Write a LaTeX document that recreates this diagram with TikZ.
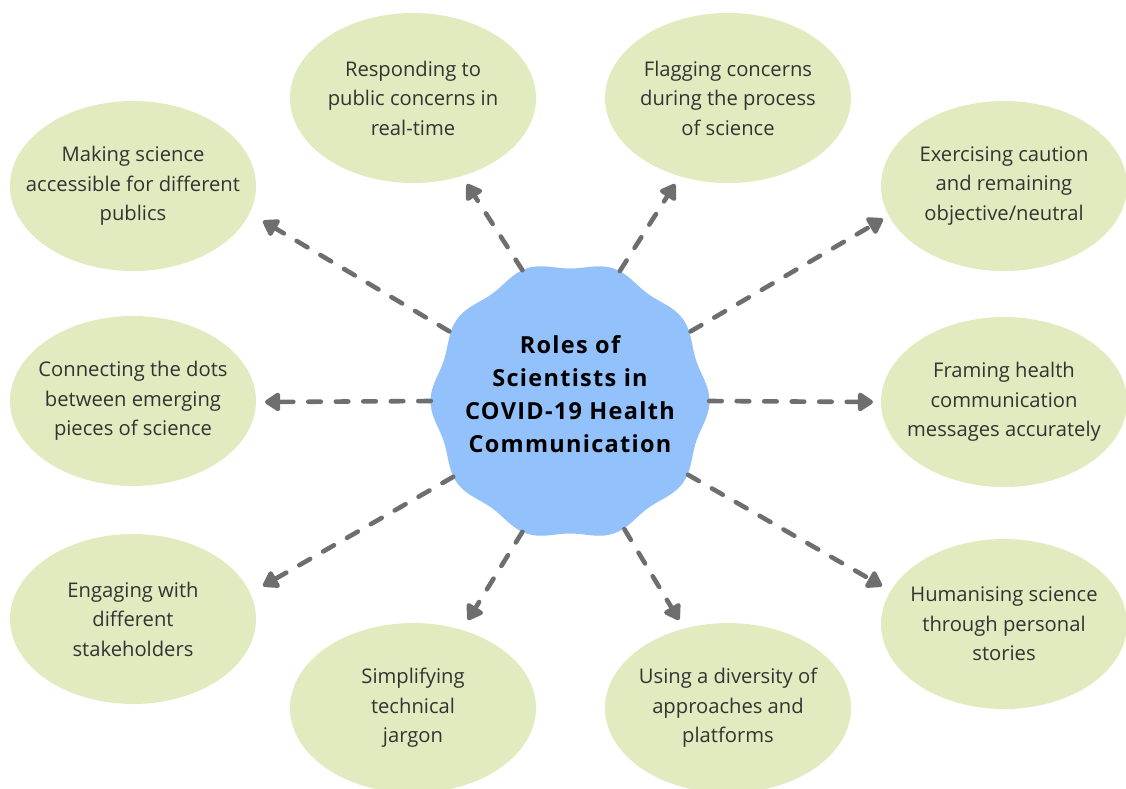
\documentclass[tikz,border=0pt]{standalone}
\usepackage{fontspec}
\setmainfont{Open Sans}
\newfontfamily\titlefont{Open Sans}[LetterSpace=5.5]
\usetikzlibrary{shapes.geometric,arrows.meta}
\definecolor{leaf}{HTML}{E2EBBF}
\definecolor{sky}{HTML}{93C1FC}
\definecolor{arrowgray}{HTML}{6E6E6E}
\definecolor{ink}{HTML}{333333}
\begin{document}
\begin{tikzpicture}[x=1pt,y=-1pt,
  role/.style={ellipse, fill=leaf, minimum width=246pt, minimum height=170pt,
    inner xsep=-40pt, inner ysep=-25pt, align=center, text=ink,
    font=\fontsize{20.2}{29.5}\selectfont},
  hub/.style={circle, minimum size=278pt, inner sep=-40pt},
  headline/.style={align=center, inner sep=0pt,
    font=\titlefont\bfseries\fontsize{23.5}{33}\selectfont},
  link/.style={draw=arrowgray, line width=4.6pt, line cap=round,
    dash pattern=on 12.5pt off 15pt,
    -{Triangle[length=17pt,width=21pt,round]}}]
\useasboundingbox (0,0) rectangle (1126,788);

% central wavy badge
\fill[sky] plot[smooth cycle, domain=0:357, samples=120, variable=\t]
  ({570+(136+3.5*cos(10*\t))*cos(\t)}, {401+(136+3.5*cos(10*\t))*sin(\t)});
\node[hub] (c) at (570,401) {};
\node[headline] (title) at (570,394)
  {Roles of\\Scientists in\\COVID-19 Health\\Communication};

% surrounding roles
\node[role] (r1)  at (133,186) {Making science\\accessible for different\\publics};
\node[role] (r2)  at (413,98)  {Responding to\\public concerns in\\real-time};
\node[role] (r3)  at (728,98)  {Flagging concerns\\during the process\\of science};
\node[role] (r4)  at (1004,186) {Exercising caution\\and remaining\\objective/neutral};
\node[role] (r5)  at (133,401) {Connecting the dots\\between emerging\\pieces of science};
\node[role] (r6)  at (1004,402) {Framing health\\communication\\messages accurately};
\node[role] (r7)  at (133,619) {Engaging with\\different\\stakeholders};
\node[role] (r8)  at (413,708) {Simplifying\\technical\\jargon};
\node[role] (r9)  at (728,708) {Using a diversity of\\approaches and\\platforms};
\node[role] (r10) at (1004,624) {Humanising science\\through personal\\stories};

% arrow tips
\coordinate (t1)  at (263,221);
\coordinate (t2)  at (467,184);
\coordinate (t3)  at (675,184);
\coordinate (t4)  at (883,219);
\coordinate (t5)  at (265,402);
\coordinate (t6)  at (873,402);
\coordinate (t7)  at (263,586);
\coordinate (t8)  at (468,620);
\coordinate (t9)  at (679,620);
\coordinate (t10) at (882,586);

\draw[link] (c.150)  -- (t1);
\draw[link] (c.110)  -- (t2);
\draw[link] (c.69)   -- (t3);
\draw[link] (c.30)   -- (t4);
\draw[link] (c.180)  -- (t5);
\draw[link] (c.0)    -- (t6);
\draw[link] (c.213)  -- (t7);
\draw[link] (c.250)  -- (t8);
\draw[link] (c.293)  -- (t9);
\draw[link] (c.328)  -- (t10);
\end{tikzpicture}
\end{document}
